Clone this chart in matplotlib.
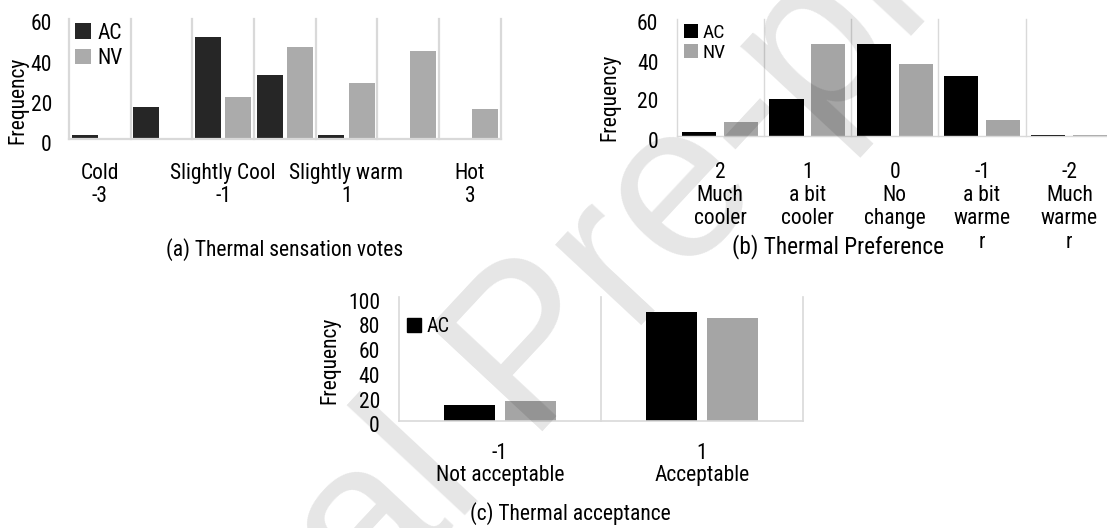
import matplotlib
matplotlib.use("Agg")
import matplotlib.pyplot as plt
import matplotlib.transforms as mtransforms
from matplotlib import font_manager
from matplotlib.patches import Patch

W, H, DPI = 1107, 528, 100

# prefer a narrow sans face when one is installed
entries = font_manager.fontManager.ttflist
names = {f.name for f in entries}
FAMILY, STRETCH = "Liberation Sans", "normal"
for cand in ["Liberation Sans Narrow", "Arial Narrow", "Roboto Condensed",
             "Open Sans Condensed", "Noto Sans Condensed", "Noto Sans Display Condensed"]:
    if cand in names:
        FAMILY = cand
        break
else:
    for f in entries:
        if (f.name in ("Noto Sans", "Open Sans", "Roboto", "Inter")
                and f.stretch in ("condensed", "semi-condensed", "extra-condensed")
                and f.style == "normal" and f.weight in (400, "normal", "regular")):
            FAMILY, STRETCH = f.name, f.stretch
            break
plt.rcParams["font.family"] = [FAMILY, "DejaVu Sans"]
plt.rcParams["font.stretch"] = STRETCH
FS = 15.5 if FAMILY != "Liberation Sans" else 14.0

# (a) thermal sensation votes, scale -3..3
sens_labels = ["Cold\n-3", "", "Slightly Cool\n-1", "", "Slightly warm\n1", "", "Hot\n3"]
sens_ac = [2, 16, 51, 32, 2, 0, 0]
sens_nv = [0, 0, 21, 46, 28, 44, 15]

# (b) thermal preference
pref_labels = ["2\nMuch\ncooler", "1\na bit\ncooler", "0\nNo\nchange",
               "-1\na bit\nwarme\nr", "-2\nMuch\nwarme\nr"]
pref_ac = [2, 19, 47, 31, 0.7]
pref_nv = [7, 47, 37, 8, 0.5]

# (c) thermal acceptance
acc_labels = ["-1\nNot acceptable", "1\nAcceptable"]
acc_ac = [13, 88]
acc_nv = [16, 83]

GRID = "#d9d9d9"

fig = plt.figure(figsize=(W / DPI, H / DPI), dpi=DPI)


def px_axes(left, top, right, bottom):
    return fig.add_axes([left / W, 1 - bottom / H, (right - left) / W, (bottom - top) / H])


def px(v):
    return v * 72 / DPI


def draw_panel(ax, labels, ac, nv, ac_color, nv_color, width, offset, ymax, ystep,
               grid_lw, ypad, xpad, linespacing):
    n = len(labels)
    xs = list(range(n))
    ax.bar([x - offset for x in xs], ac, width=width, color=ac_color, zorder=2, label="AC")
    ax.bar([x + offset for x in xs], nv, width=width, color=nv_color, zorder=2, label="NV")
    ax.set_xlim(-0.5, n - 0.5)
    ax.set_ylim(0, ymax)
    for s in ax.spines.values():
        s.set_visible(False)
    for b in range(n + 1):
        ax.axvline(b - 0.5, color=GRID, lw=grid_lw, zorder=1, clip_on=False)
    ax.axhline(0, color=GRID, lw=grid_lw, zorder=3, clip_on=False)
    ax.set_yticks(range(0, ymax + 1, ystep))
    ax.set_xticks(xs)
    ax.set_xticklabels(labels, linespacing=linespacing)
    ax.tick_params(axis="both", length=0, labelsize=FS)
    ax.tick_params(axis="y", pad=px(ypad))
    ax.tick_params(axis="x", pad=px(xpad))
    shift = mtransforms.ScaledTranslation(0, -3.5 / DPI, fig.dpi_scale_trans)
    for lab in ax.get_yticklabels():
        lab.set_transform(lab.get_transform() + shift)
    ax.patch.set_alpha(0)


# ---- (a)
axa = px_axes(69, 19, 500.6, 139.3)
draw_panel(axa, sens_labels, sens_ac, sens_nv, "#262626", "#ababab",
           0.42, 0.245, 60, 20, 1.6, 17, 24, 1.12)
axa.set_ylabel("Frequency", fontsize=FS, va="center")
axa.yaxis.set_label_coords(-0.119, 0.327)
axa.legend(loc="upper left", bbox_to_anchor=(0.015, 0.97), frameon=False, fontsize=FS,
           handlelength=0.72, handleheight=0.72, handletextpad=0.3, labelspacing=0.22,
           borderaxespad=0, borderpad=0)
fig.text(285 / W, 1 - 250 / H, "(a) Thermal sensation votes", fontsize=FS,
         ha="center", va="center")

# ---- (b)
axb = px_axes(676.5, 19, 1113, 136)
draw_panel(axb, pref_labels, pref_ac, pref_nv, "#000000", "#a5a5a5",
           0.39, 0.24, 60, 20, 1.0, 18, 26, 1.14)
axb.set_ylabel("Frequency", fontsize=FS, va="center")
axb.yaxis.set_label_coords(-0.152, 0.327)
axb.legend(loc="upper left", bbox_to_anchor=(0.018, 0.96), frameon=False, fontsize=14,
           handlelength=0.72, handleheight=0.72, handletextpad=0.2, labelspacing=0.12,
           borderaxespad=0, borderpad=0)
fig.text(838 / W, 1 - 247 / H, "(b) Thermal Preference", fontsize=FS * 1.08,
         ha="center", va="center")

# ---- (c)
axc = px_axes(399, 297.3, 803, 420.7)
draw_panel(axc, acc_labels, acc_ac, acc_nv, "#000000", "#a5a5a5",
           0.252, 0.149, 100, 20, 1.2, 19, 22, 1.1)
axc.set_ylabel("Frequency", fontsize=FS, va="center")
axc.yaxis.set_label_coords(-0.171, 0.49)
hc = [Patch(color="#000000")]
axc.legend(hc, ["AC"], loc="upper left", bbox_to_anchor=(0.02, 0.84), frameon=False,
           fontsize=14.5, handlelength=0.7, handleheight=0.7, handletextpad=0.25,
           borderaxespad=0, borderpad=0)
fig.text(570 / W, 1 - 514 / H, "(c) Thermal acceptance", fontsize=FS,
         ha="center", va="center")

# diagonal watermark
fig.text(535 / W, 1 - 355 / H, "Journal Pre-proof", rotation=47, fontsize=160,
         family="Liberation Sans", color="black", alpha=0.1,
         ha="center", va="center", zorder=10)

fig.savefig("out.png", dpi=DPI)
